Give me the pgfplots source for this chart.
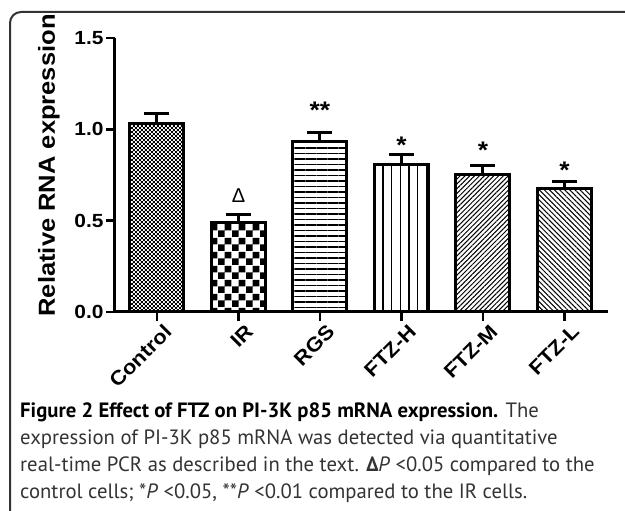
\documentclass[border=0pt]{standalone}
\usepackage{fontspec}
\usepackage{pgfplots}
\pgfplotsset{compat=1.18}
\usetikzlibrary{patterns,patterns.meta}
\newfontfamily\chartfont[FakeStretch=1.1]{Liberation Sans}
\newfontfamily\plainsans{Liberation Sans}
\newfontfamily\capfont{PT Sans}
\definecolor{captext}{HTML}{333333}
\pgfdeclarepatternformonly{finechecker}{\pgfqpoint{0pt}{0pt}}{\pgfqpoint{4.4pt}{4.4pt}}{\pgfqpoint{4.4pt}{4.4pt}}{%
  \pgfpathrectangle{\pgfqpoint{0pt}{0pt}}{\pgfqpoint{2.2pt}{2.2pt}}%
  \pgfpathrectangle{\pgfqpoint{2.2pt}{2.2pt}}{\pgfqpoint{2.2pt}{2.2pt}}%
  \pgfusepath{fill}}
\pgfdeclarepatternformonly{coarsechecker}{\pgfqpoint{0pt}{0pt}}{\pgfqpoint{13.6pt}{13.6pt}}{\pgfqpoint{13.6pt}{13.6pt}}{%
  \pgfpathrectangle{\pgfqpoint{0pt}{0pt}}{\pgfqpoint{6.8pt}{6.8pt}}%
  \pgfpathrectangle{\pgfqpoint{6.8pt}{6.8pt}}{\pgfqpoint{6.8pt}{6.8pt}}%
  \pgfusepath{fill}}
\begin{document}
\begin{tikzpicture}[x=1pt,y=1pt]
\path[use as bounding box] (0,0) rectangle (625,511);
\draw[line width=2pt, rounded corners=11pt, color=black!80] (10,-30) -- (10,499) -- (660,499);
\begin{axis}[
  at={(115pt,199pt)}, anchor=south west,
  x=81.5pt, y=182.7pt,
  xmin=-0.515, xmax=5.53, ymin=0, ymax=1.5,
  axis x line*=bottom, axis y line*=left,
  axis line style={line width=3pt, -},
  tick style={line width=2.5pt, black},
  major tick length=9pt, tick align=outside,
  xtick={0,1,2,3,4,5},
  xticklabels={Control,IR,RGS,FTZ-H,FTZ-M,FTZ-L},
  ytick={0,0.5,1,1.5},
  /pgf/number format/assume math mode=true,
  yticklabel={\pgfmathprintnumber[fixed,fixed zerofill,precision=1]{\tick}},
  yticklabel style={font=\chartfont\bfseries\fontsize{19}{19}\selectfont, xshift=1pt},
  xticklabel style={font=\chartfont\bfseries\fontsize{20}{20}\selectfont, rotate=45, anchor=east, xshift=6pt, yshift=-13pt},
  every axis y label/.style={at={(axis description cs:-0.134,0.535)}, rotate=90, anchor=center,
    font=\chartfont\bfseries\fontsize{23.2}{23.2}\selectfont},
  ylabel={Relative RNA expression},
  clip=false,
  bar width=54pt,
]
\pgfplotsset{
  mybar/.style={ybar, bar shift=0pt, draw=black, line width=3pt,
    error bars/.cd, y dir=plus, y explicit,
    error bar style={line width=3pt, black},
    error mark options={rotate=90, mark size=12.5pt, line width=3pt, black}},
}
\addplot[pattern=finechecker, mybar] coordinates {(0,1.03) +- (0,0.055)};
\addplot[pattern=coarsechecker, mybar] coordinates {(1,0.49) +- (0,0.045)};
\addplot[pattern={Lines[angle=0, distance=5.5pt, line width=1.1pt]}, mybar] coordinates {(2,0.935) +- (0,0.046)};
\addplot[pattern={Lines[angle=90, distance=8.7pt, line width=1.4pt]}, mybar] coordinates {(3,0.806) +- (0,0.055)};
\addplot[pattern={Lines[angle=45, distance=3.4pt, line width=1pt]}, mybar] coordinates {(4,0.754) +- (0,0.046)};
\addplot[pattern={Lines[angle=-45, distance=3.6pt, line width=1pt]}, mybar] coordinates {(5,0.675) +- (0,0.038)};
\node[anchor=north, inner sep=0pt, font=\plainsans\fontsize{20}{20}\selectfont] at (axis cs:1,0.677) {Δ};
\node[anchor=north, inner sep=0pt, font=\chartfont\bfseries\fontsize{24}{24}\selectfont] at (axis cs:2,1.151) {**};
\node[anchor=north, inner sep=0pt, font=\chartfont\bfseries\fontsize{24}{24}\selectfont] at (axis cs:3,0.96) {*};
\node[anchor=north, inner sep=0pt, font=\chartfont\bfseries\fontsize{24}{24}\selectfont] at (axis cs:4,0.932) {*};
\node[anchor=north, inner sep=0pt, font=\chartfont\bfseries\fontsize{24}{24}\selectfont] at (axis cs:5,0.823) {*};
\end{axis}
\begin{scope}[every node/.style={anchor=base west, inner sep=0pt, font=\capfont\fontsize{20.7}{20.7}\selectfont, text=captext}]
\node at (20,93) {\textbf{\color{black}Figure 2 Effect of FTZ on PI-3K p85 mRNA expression.} The};
\node at (20,66) {expression of PI-3K p85 mRNA was detected via quantitative};
\node at (20,39) {real-time PCR as described in the text. \textbf{Δ}\textit{P} <0.05 compared to the};
\node at (20,12) {control cells; *\textit{P} <0.05, **\textit{P} <0.01 compared to the IR cells.};
\end{scope}
\end{tikzpicture}
\end{document}
